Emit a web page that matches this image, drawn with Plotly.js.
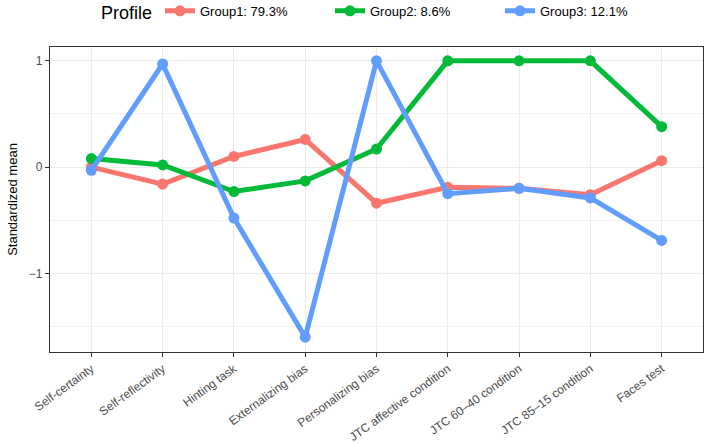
<!DOCTYPE html>
<html>
<head>
<meta charset="utf-8">
<script src="https://cdn.plot.ly/plotly-3.0.1.min.js"></script>
<style>
  html, body { margin: 0; padding: 0; background: #fff; }
  #chart { width: 708px; height: 443px; }
</style>
</head>
<body>
<div id="chart"></div>
<script>
// categories on the x axis
let measures = ["Self-certainty", "Self-reflectivity", "Hinting task", "Externalizing bias",
  "Personalizing bias", "JTC affective condition", "JTC 60\u201340 condition",
  "JTC 85\u201315 condition", "Faces test"];

// standardized means per profile
let group1 = [0.00, -0.16, 0.10, 0.26, -0.34, -0.19, -0.20, -0.26, 0.06];
let group2 = [0.08, 0.02, -0.23, -0.13, 0.17, 1.00, 1.00, 1.00, 0.38];
let group3 = [-0.03, 0.97, -0.48, -1.60, 1.00, -0.25, -0.20, -0.29, -0.69];

let groupNames = ["Group1: 79.3%", "Group2: 8.6%", "Group3: 12.1%"];
let groupColors = ["#F8766D", "#00BA38", "#619CFF"];

let xIdx = measures.map((m, i) => i);

let traceData = [group1, group2, group3].map((vals, i) => ({
  x: xIdx,
  y: vals,
  name: groupNames[i],
  type: "scatter",
  mode: "lines+markers",
  line: {color: groupColors[i], width: 5},
  marker: {color: groupColors[i], size: 11}
}));

let layout = {
  width: 708,
  height: 443,
  margin: {l: 50, r: 5, t: 47, b: 91, autoexpand: false},
  paper_bgcolor: "#fff",
  plot_bgcolor: "#fff",
  font: {family: "Liberation Sans, Arial, sans-serif", color: "#000"},
  showlegend: true,
  legend: {
    orientation: "h",
    x: 0.075, xanchor: "left",
    y: 1.112, yanchor: "middle",
    title: {text: "Profile", font: {size: 18, color: "#000"}, side: "left"},
    font: {size: 13, color: "#000"},
    itemwidth: 30,
    entrywidth: 125
  },
  xaxis: {
    range: [-0.58, 8.58],
    tickmode: "array",
    tickvals: xIdx,
    ticktext: measures,
    tickangle: -36,
    tickfont: {size: 12, color: "#4D4D4D"},
    ticks: "outside", ticklen: 4, tickcolor: "#333", tickwidth: 1,
    showgrid: true, gridcolor: "#EBEBEB", gridwidth: 1,
    zeroline: false,
    showline: true, linecolor: "#333", linewidth: 1.2, mirror: true
  },
  yaxis: {
    range: [-1.74, 1.13],
    tickmode: "array",
    tickvals: [-1, 0, 1],
    ticktext: ["\u22121", "0", "1"],
    tickfont: {size: 12, color: "#4D4D4D"},
    ticks: "outside", ticklen: 4, tickcolor: "#333", tickwidth: 1,
    showgrid: true, gridcolor: "#EBEBEB", gridwidth: 1.2,
    minor: {tickmode: "array", tickvals: [-1.5, -0.5, 0.5], showgrid: true, gridcolor: "#F2F2F2", gridwidth: 1, ticks: ""},
    zeroline: false,
    showline: true, linecolor: "#333", linewidth: 1.2, mirror: true,
    title: {text: "Standardized mean", font: {size: 13, color: "#000"}, standoff: 8}
  }
};

Plotly.newPlot("chart", traceData, layout, {displayModeBar: false});
</script>
</body>
</html>
